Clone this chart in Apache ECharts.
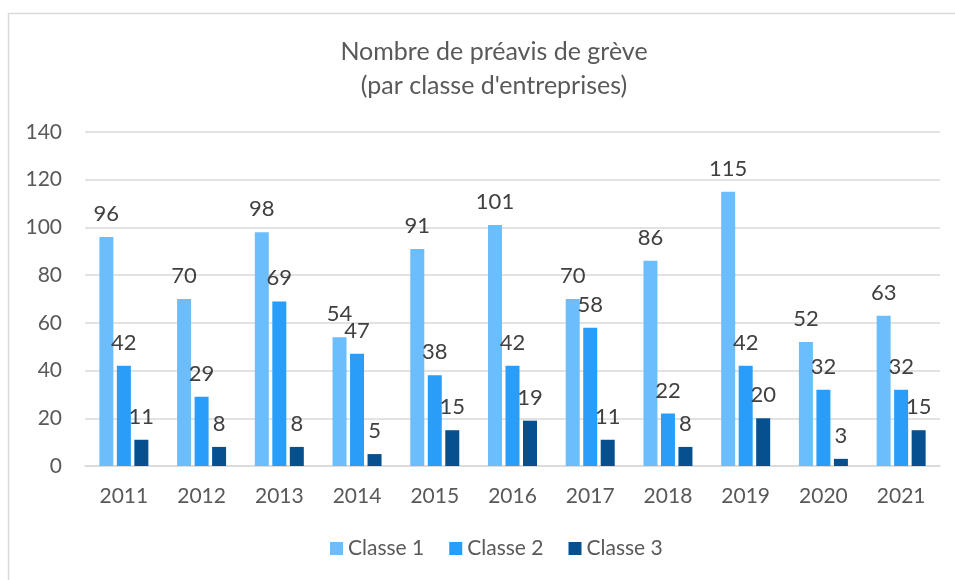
<!DOCTYPE html>
<html>
<head>
<meta charset="utf-8">
<script src="https://cdn.jsdelivr.net/npm/echarts@6/dist/echarts.min.js"></script>
<style>
  html, body { margin: 0; padding: 0; background: #fff; }
  #chart { width: 955px; height: 580px; }
</style>
</head>
<body>
<div id="chart"></div>
<script>
const years = ['2011', '2012', '2013', '2014', '2015', '2016', '2017', '2018', '2019', '2020', '2021']
const classe1 = [96, 70, 98, 54, 91, 101, 70, 86, 115, 52, 63]
const classe2 = [42, 29, 69, 47, 38, 42, 58, 22, 42, 32, 32]
const classe3 = [11, 8, 8, 5, 15, 19, 11, 8, 20, 3, 15]
const yTicks = [0, 20, 40, 60, 80, 100, 120, 140]

const fontFamily = 'Lato, "Liberation Sans", sans-serif'
const colors = ['#6cbdfc', '#2a9df9', '#06508f']

const chart = echarts.init(document.getElementById('chart'))

const makeSeries = (name, data, color) => ({
  name,
  type: 'bar',
  data,
  barWidth: 14,
  barGap: '25%',
  itemStyle: { color },
  label: {
    show: true,
    position: 'top',
    distance: 12,
    color: '#404040',
    fontSize: 22,
    fontFamily
  }
})

chart.setOption({
  animation: false,
  graphic: [{
    type: 'rect',
    shape: { x: 8.5, y: 13.5, width: 1000, height: 1000 },
    style: { fill: 'none', stroke: '#d9d9d9', lineWidth: 1.5 },
    silent: true
  }],
  title: {
    text: 'Nombre de préavis de grève\n(par classe d\'entreprises)',
    left: 489,
    textAlign: 'center',
    top: 30,
    textStyle: {
      color: '#595959',
      fontSize: 25,
      fontWeight: 'normal',
      fontFamily,
      lineHeight: 34
    }
  },
  legend: {
    bottom: 16,
    left: 325,
    itemWidth: 13,
    itemHeight: 13,
    itemGap: 25,
    icon: 'rect',
    textStyle: { color: '#595959', fontSize: 21, fontFamily }
  },
  grid: { left: 85, right: 15, top: 132, bottom: 114 },
  xAxis: {
    type: 'category',
    data: years,
    axisTick: { show: false },
    axisLine: { lineStyle: { color: '#d9d9d9', width: 1.5 } },
    axisLabel: { color: '#595959', fontSize: 21, fontFamily, margin: 20 }
  },
  yAxis: {
    type: 'value',
    min: yTicks[0],
    max: yTicks[yTicks.length - 1],
    interval: 20,
    axisLine: { show: false },
    axisTick: { show: false },
    splitLine: { lineStyle: { color: '#d9d9d9', width: 1.5 } },
    axisLabel: { color: '#595959', fontSize: 21, fontFamily, margin: 23 }
  },
  series: [
    makeSeries('Classe 1', classe1, colors[0]),
    makeSeries('Classe 2', classe2, colors[1]),
    makeSeries('Classe 3', classe3, colors[2])
  ]
})
</script>
</body>
</html>
